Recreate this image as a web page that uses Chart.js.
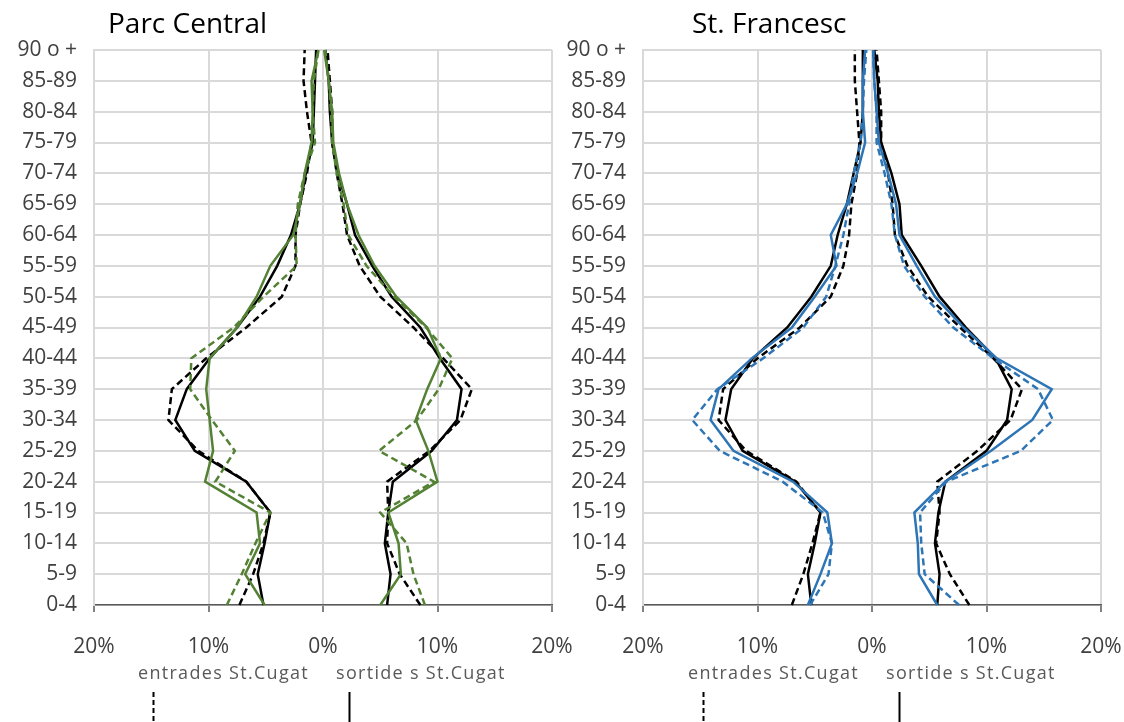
<!DOCTYPE html>
<html>
<head>
<meta charset="utf-8">
<script src="https://cdn.jsdelivr.net/npm/chart.js@4/dist/chart.umd.min.js"></script>
<style>
html,body{margin:0;padding:0;background:#fff;}
body{width:1124px;height:722px;position:relative;overflow:hidden;font-family:"Open Sans",sans-serif;}
.panel{position:absolute;top:0;height:722px;}
.title{position:absolute;top:9px;font-size:28px;line-height:27px;color:#000;white-space:nowrap;}
.leg{position:absolute;top:663px;font-size:18px;line-height:18px;letter-spacing:1.3px;color:#595959;white-space:nowrap;}
svg{position:absolute;left:0;top:0;}
</style>
</head>
<body>
<div class="panel" style="left:0px;width:600px"><canvas id="c1" width="600" height="722"></canvas></div>
<div class="panel" style="left:549px;width:575px"><canvas id="c2" width="575" height="722"></canvas></div>

<div class="title" style="left:108px">Parc Central</div>
<div class="title" style="left:692px">St. Francesc</div>

<div class="leg" style="left:138px">entrades St.Cugat</div>
<div class="leg" style="left:336px">sortide s St.Cugat</div>
<div class="leg" style="left:688px">entrades St.Cugat</div>
<div class="leg" style="left:886px">sortide s St.Cugat</div>

<svg width="1124" height="722">
  <line x1="153.5" y1="692" x2="153.5" y2="722" stroke="#000" stroke-width="2" stroke-dasharray="5,3"/>
  <line x1="349.5" y1="692" x2="349.5" y2="722" stroke="#000" stroke-width="2"/>
  <line x1="703.5" y1="692" x2="703.5" y2="722" stroke="#000" stroke-width="2" stroke-dasharray="5,3"/>
  <line x1="899.5" y1="692" x2="899.5" y2="722" stroke="#000" stroke-width="2"/>
</svg>

<script>
// Age groups, bottom to top
const ageGroups = ['0-4','5-9','10-14','15-19','20-24','25-29','30-34','35-39','40-44','45-49',
  '50-54','55-59','60-64','65-69','70-74','75-79','80-84','85-89','90 o +'];
const xTickLabels = ['20%','10%','0%','10%','20%'];

// ---- Parc Central (percent; left side negative) ----
const pcBlackSolidL = [-5.2,-5.7,-5.1,-4.6,-6.7,-11.2,-12.9,-11.9,-9.9,-7.5,-5.5,-4.0,-2.8,-2.0,-1.5,-0.9,-0.8,-0.7,-0.6];
const pcBlackDashL  = [-7.3,-6.1,-5.2,-4.6,-6.7,-10.9,-13.5,-13.2,-10.2,-6.7,-3.6,-2.4,-2.4,-2.0,-1.4,-1.0,-1.4,-1.7,-1.6];
const pcGreenSolidL = [-5.1,-6.8,-5.5,-5.8,-10.3,-9.6,-9.9,-10.2,-9.9,-7.5,-5.8,-4.6,-2.6,-2.0,-1.6,-1.0,-0.9,-1.0,-0.4];
const pcGreenDashL  = [-8.4,-7.1,-5.9,-4.6,-9.4,-7.7,-9.7,-11.6,-11.5,-7.8,-5.2,-2.3,-2.4,-2.2,-1.6,-0.7,-0.9,-0.8,-0.4];
const pcBlackSolidR = [5.6,5.9,5.4,5.7,6.1,9.5,11.7,12.1,10.2,8.5,6.0,4.3,2.8,2.1,1.3,0.8,0.6,0.5,0.2];
const pcBlackDashR  = [8.5,6.7,5.6,5.7,5.6,9.3,12.0,13.0,10.5,7.9,5.0,3.2,2.1,1.7,1.2,0.8,0.8,0.6,0.4];
const pcGreenSolidR = [5.0,6.8,6.6,5.7,10.0,9.2,8.1,9.1,10.3,9.1,6.4,4.5,3.1,2.1,1.4,0.9,0.8,0.5,0.1];
const pcGreenDashR  = [8.9,7.9,7.3,5.0,9.7,4.9,8.2,10.1,11.3,9.0,6.2,3.8,2.2,1.8,1.2,0.8,0.7,0.5,0.2];

// ---- St. Francesc ----
const sfBlackSolidL = [-5.3,-5.6,-5.0,-4.5,-6.7,-11.3,-12.8,-12.3,-10.4,-7.4,-5.3,-3.6,-3.0,-2.2,-1.6,-1.0,-0.8,-0.8,-0.8];
const sfBlackDashL  = [-7.0,-6.0,-5.2,-4.5,-6.6,-11.0,-13.4,-13.0,-10.0,-6.3,-3.6,-2.5,-2.0,-1.8,-1.3,-1.1,-1.3,-1.5,-1.5];
const sfBlueSolidL  = [-5.6,-4.5,-3.5,-3.9,-6.9,-12.1,-14.1,-13.4,-10.5,-7.0,-5.0,-3.1,-3.6,-2.2,-1.3,-0.6,-0.8,-0.8,-0.6];
const sfBlueDashL   = [-5.4,-3.8,-3.5,-4.3,-7.8,-13.3,-15.7,-13.5,-9.5,-6.0,-4.0,-3.2,-2.5,-2.0,-1.6,-1.0,-0.8,-0.7,-0.5];
const sfBlackSolidR = [5.7,5.9,5.5,5.8,6.4,10.0,11.8,12.2,10.8,8.2,5.9,4.3,2.6,2.4,1.7,0.8,0.6,0.5,0.2];
const sfBlackDashR  = [8.5,6.8,5.6,5.9,5.7,9.2,12.1,13.1,10.6,7.7,4.9,3.1,2.0,1.8,1.4,0.8,0.8,0.6,0.4];
const sfBlueSolidR  = [5.7,4.1,4.0,3.7,6.4,10.4,14.0,15.7,10.9,8.0,5.5,3.9,2.4,2.1,1.4,0.6,0.4,0.2,0.1];
const sfBlueDashR   = [7.6,4.6,4.3,4.2,6.5,13.0,15.8,14.5,10.6,7.1,4.6,2.8,2.0,1.7,1.1,0.4,0.4,0.2,0.1];

const GREEN = '#548235';
const BLUE = '#2E75B6';
const BLACK = '#000000';
const DASH = [7, 4];

function ds(label, data, color, dashed) {
  return {
    label: label, data: data, borderColor: color, backgroundColor: color,
    borderWidth: 2.5, borderDash: dashed ? DASH : [], pointRadius: 0,
    tension: 0, fill: false
  };
}

const tickFont = {family: '"Open Sans", sans-serif', size: 21};

function makeChart(id, datasets, padRight) {
  return new Chart(document.getElementById(id), {
    type: 'line',
    data: {labels: ageGroups, datasets: datasets},
    options: {
      indexAxis: 'y',
      responsive: false,
      animation: false,
      devicePixelRatio: 1,
      layout: {padding: {top: 50, right: padRight, left: 0, bottom: 0}},
      plugins: {legend: {display: false}, tooltip: {enabled: false}, title: {display: false}},
      scales: {
        x: {
          type: 'linear', position: 'bottom', min: -20, max: 20,
          ticks: {stepSize: 10, autoSkip: false, maxRotation: 0, color: '#404040', font: tickFont, padding: 22,
                  callback: (v, i) => xTickLabels[i]},
          grid: {color: '#d9d9d9', lineWidth: 2, tickLength: 7, tickColor: '#595959', tickWidth: 1.5},
          border: {color: '#595959', width: 1.5},
          afterFit: s => { s.height = 117; s.paddingLeft = 0; s.paddingRight = 0; }
        },
        y: {
          type: 'category', labels: ageGroups, reverse: true, offset: false,
          ticks: {autoSkip: false, color: '#404040', font: tickFont, padding: 17},
          grid: {color: '#d9d9d9', lineWidth: 2, drawTicks: false},
          border: {color: '#d9d9d9', width: 2},
          afterFit: s => { s.width = 94; s.paddingTop = 0; s.paddingBottom = 0; }
        }
      }
    }
  });
}

makeChart('c1', [
  ds('Parc Central verd continu (esq.)', pcGreenSolidL, GREEN, false),
  ds('Parc Central verd discontinu (esq.)', pcGreenDashL, GREEN, true),
  ds('Parc Central verd continu (dre.)', pcGreenSolidR, GREEN, false),
  ds('Parc Central verd discontinu (dre.)', pcGreenDashR, GREEN, true),
  ds('St.Cugat continu (esq.)', pcBlackSolidL, BLACK, false),
  ds('St.Cugat discontinu (esq.)', pcBlackDashL, BLACK, true),
  ds('St.Cugat continu (dre.)', pcBlackSolidR, BLACK, false),
  ds('St.Cugat discontinu (dre.)', pcBlackDashR, BLACK, true)
], 48);

makeChart('c2', [
  ds('St. Francesc blau continu (esq.)', sfBlueSolidL, BLUE, false),
  ds('St. Francesc blau discontinu (esq.)', sfBlueDashL, BLUE, true),
  ds('St. Francesc blau continu (dre.)', sfBlueSolidR, BLUE, false),
  ds('St. Francesc blau discontinu (dre.)', sfBlueDashR, BLUE, true),
  ds('St.Cugat continu (esq.)', sfBlackSolidL, BLACK, false),
  ds('St.Cugat discontinu (esq.)', sfBlackDashL, BLACK, true),
  ds('St.Cugat continu (dre.)', sfBlackSolidR, BLACK, false),
  ds('St.Cugat discontinu (dre.)', sfBlackDashR, BLACK, true)
], 23);
</script>
</body>
</html>
